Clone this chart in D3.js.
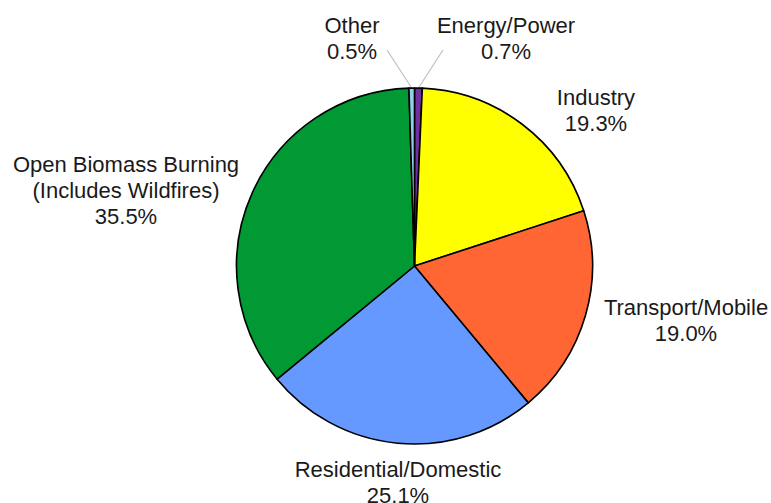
<!DOCTYPE html>
<html><head><meta charset="utf-8">
<script src="https://cdn.jsdelivr.net/npm/d3@7"></script>
<style>html,body{margin:0;padding:0;background:#fff;}svg{display:block;}</style>
</head><body>
<svg id="c" width="771" height="503"></svg>
<script>
const categories = ["Energy/Power","Industry","Transport/Mobile","Residential/Domestic","Open Biomass Burning (Includes Wildfires)","Other"];
const labelLines = [["Energy/Power"],["Industry"],["Transport/Mobile"],["Residential/Domestic"],["Open Biomass Burning","(Includes Wildfires)"],["Other"]];
const values = [0.7, 19.3, 19.0, 25.1, 35.5, 0.5];
const colors = ["#7030A0","#FFFF00","#FF6633","#6699FF","#009933","#8FD0EE"];

// layout (label anchor centres & first baseline)
const labelPos = [[506,33],[596,105],[686,315],[398,477],[126,172],[352,33]];
const leaderFrom = [[443,50],null,null,null,null,[387,50]];

const svg = d3.select("#c");
const cx = 414.5, cy = 266, R = 178;
const g = svg.append("g").attr("transform",`translate(${cx},${cy})`);
const pie = d3.pie().sort(null).value(d=>d)(values);
const arc = d3.arc().innerRadius(0).outerRadius(R);

// leader lines
pie.forEach((p,i)=>{
  if(!leaderFrom[i]) return;
  const a = (p.startAngle+p.endAngle)/2;
  const x2 = R*Math.sin(a), y2 = -R*Math.cos(a);
  g.append("line").attr("x1",leaderFrom[i][0]-cx).attr("y1",leaderFrom[i][1]-cy)
    .attr("x2",x2).attr("y2",y2).attr("stroke","#bfbfbf").attr("stroke-width",1.2);
});

g.selectAll("path.s").data(pie).join("path").attr("class","s")
  .attr("d",arc).attr("fill",(d,i)=>colors[i])
  .attr("stroke","#000").attr("stroke-width",1.6).attr("stroke-linejoin","round");

const fmt = d3.format(".1f");
labelLines.forEach((lines,i)=>{
  const t = svg.append("text").attr("x",labelPos[i][0]).attr("y",labelPos[i][1])
    .attr("text-anchor","middle").attr("font-family","Liberation Sans, Arial, sans-serif")
    .attr("font-size",22).attr("fill","#1a1a1a");
  const all = lines.concat([fmt(values[i])+"%"]);
  all.forEach((s,k)=>{
    t.append("tspan").attr("x",labelPos[i][0]).attr("dy",k===0?0:26).text(s);
  });
});
</script>
</body></html>
